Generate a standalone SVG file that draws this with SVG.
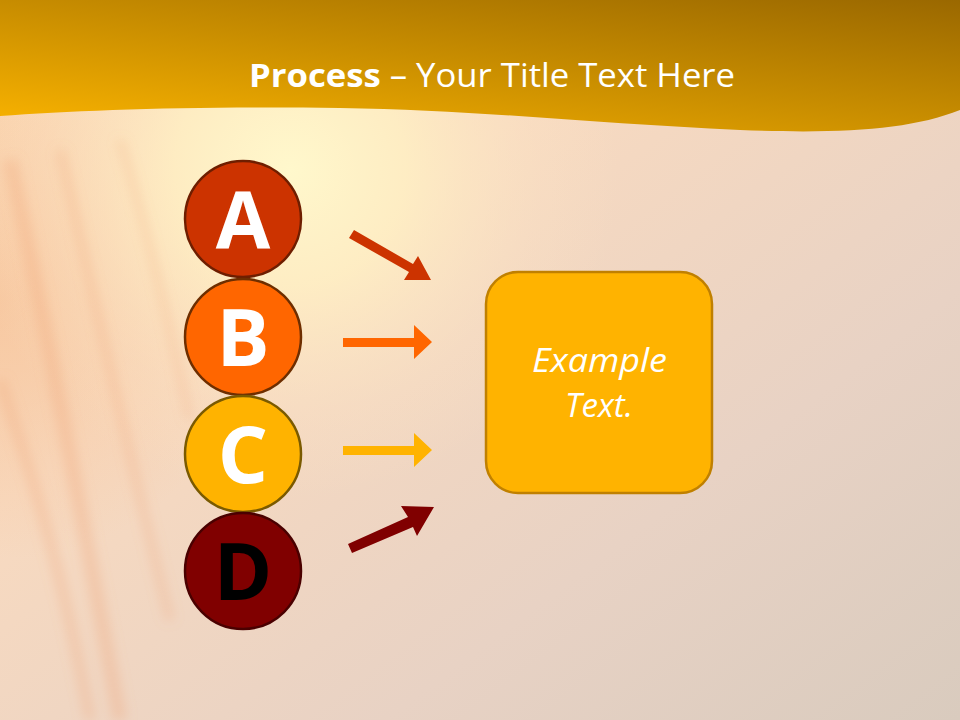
<svg xmlns="http://www.w3.org/2000/svg" width="960" height="720" viewBox="0 0 960 720">
  <defs>
    <linearGradient id="bg" x1="0" y1="0" x2="1" y2="1">
      <stop offset="0" stop-color="#FBD6B0"/>
      <stop offset="0.35" stop-color="#F8DAC0"/>
      <stop offset="0.7" stop-color="#E8D2C4"/>
      <stop offset="1" stop-color="#D9CBBE"/>
    </linearGradient>
    <radialGradient id="glow" cx="290" cy="170" r="330" gradientUnits="userSpaceOnUse">
      <stop offset="0" stop-color="#FFF8CC" stop-opacity="1"/>
      <stop offset="0.35" stop-color="#FFF0C4" stop-opacity="0.85"/>
      <stop offset="0.75" stop-color="#FCE4C4" stop-opacity="0.3"/>
      <stop offset="1" stop-color="#FCE4C4" stop-opacity="0"/>
    </radialGradient>
    <radialGradient id="leftwarm" cx="0" cy="300" r="260" gradientUnits="userSpaceOnUse">
      <stop offset="0" stop-color="#F6B888" stop-opacity="0.5"/>
      <stop offset="1" stop-color="#F6B888" stop-opacity="0"/>
    </radialGradient>
    <linearGradient id="hdr" x1="0" y1="125" x2="30" y2="-116" gradientUnits="userSpaceOnUse">
      <stop offset="0" stop-color="#F8B200"/>
      <stop offset="0.5" stop-color="#C88D00"/>
      <stop offset="1" stop-color="#9A6800"/>
    </linearGradient>
    <filter id="soft" x="-50%" y="-10%" width="200%" height="120%">
      <feGaussianBlur stdDeviation="6"/>
    </filter>
    <style>
      .circ { stroke-width: 2.5; }
      .letter { font-family: "Open Sans", "DejaVu Sans", sans-serif; font-weight: bold; font-size: 79px; text-anchor: middle; }
      .streak { fill: none; stroke: #F0A070; stroke-opacity: 0.3; }
      .ex { font-family: "Open Sans", "DejaVu Sans", sans-serif; font-style: italic; font-size: 33px; fill: #FFFFFF; }
    </style>
  </defs>

  <rect x="0" y="0" width="960" height="720" fill="url(#bg)"/>
  <rect x="0" y="0" width="960" height="720" fill="url(#leftwarm)"/>
  <rect x="0" y="0" width="960" height="720" fill="url(#glow)"/>
  <g id="streaks" filter="url(#soft)">
    <path class="streak" stroke-width="14" d="M10,160 C40,300 70,450 120,720"/>
    <path class="streak" stroke-width="8" d="M60,150 C90,280 120,420 170,620"/>
    <path class="streak" stroke-width="10" d="M0,380 C30,470 60,560 90,720"/>
    <path class="streak" stroke-width="6" d="M120,140 C150,240 170,330 190,420"/>
  </g>

  <path id="header" d="M0,0 H960 V110 C910,130 840,134 740,130 C600,124 480,110 340,108 C200,106 80,110 0,116 Z" fill="url(#hdr)"/>
  <text x="249" y="87" font-family="'Open Sans', 'DejaVu Sans', sans-serif" font-size="32" fill="#FFFFFF" textLength="486" lengthAdjust="spacingAndGlyphs"><tspan font-weight="bold">Process</tspan> – Your Title Text Here</text>

  <g id="connectors">
    <path fill="#CC3300" d="M349,238 L354,230 L413,264 L418,256 L431,280 L404,280 L409,272 Z"/>
    <path fill="#FF6600" d="M343,338 H414 V325 L432,342 L414,359 V347 H343 Z"/>
    <path fill="#FFB300" d="M343,446 H414 V433 L432,450 L414,467 V455 H343 Z"/>
    <path fill="#800000" d="M348,544 L352,553 L413,527 L417,536 L434,507 L401,506 L408,517 Z"/>
  </g>

  <g id="node-a">
    <circle class="circ" cx="243" cy="219" r="58" fill="#CC3300" stroke="#6E1E00"/>
    <text class="letter" x="243" y="248" fill="#FFFFFF">A</text>
  </g>
  <g id="node-b">
    <circle class="circ" cx="243" cy="337" r="58" fill="#FF6600" stroke="#6E2E00"/>
    <text class="letter" x="243" y="366" fill="#FFFFFF">B</text>
  </g>
  <g id="node-c">
    <circle class="circ" cx="243" cy="454" r="58" fill="#FFB300" stroke="#7A5A00"/>
    <text class="letter" x="243" y="483" fill="#FFFFFF">C</text>
  </g>
  <g id="node-d">
    <circle class="circ" cx="243" cy="571" r="58" fill="#800000" stroke="#4A0000"/>
    <text class="letter" x="243" y="600" fill="#000000">D</text>
  </g>

  <g id="node-example">
    <rect x="486" y="272" width="226" height="221" rx="32" ry="32" fill="#FFB300" stroke="#C08000" stroke-width="2.5"/>
    <text class="ex" x="532" y="372" textLength="135" lengthAdjust="spacingAndGlyphs">Example</text>
    <text class="ex" x="565" y="417" textLength="68" lengthAdjust="spacingAndGlyphs">Text.</text>
  </g>
</svg>
